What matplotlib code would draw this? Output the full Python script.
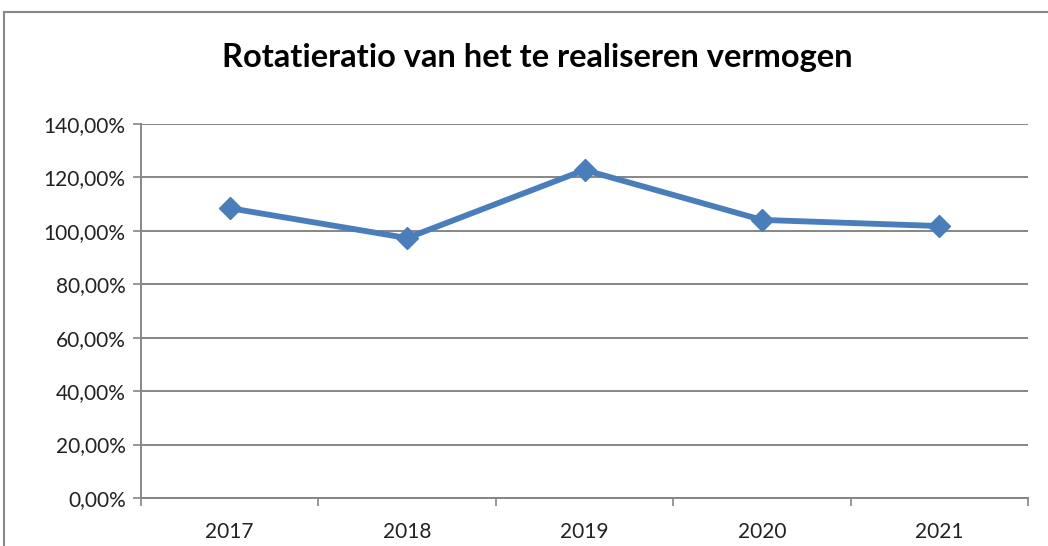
import matplotlib
matplotlib.use("Agg")
import matplotlib.pyplot as plt
from matplotlib.patches import Rectangle
from matplotlib.ticker import FuncFormatter, MultipleLocator

years = ["2017", "2018", "2019", "2020", "2021"]
ratio = [108.5, 97.3, 122.8, 104.1, 101.8]
title = "Rotatieratio van het te realiseren vermogen"

plt.rcParams['font.family'] = ['Lato', 'DejaVu Sans']

fig = plt.figure(figsize=(10.48, 5.46), dpi=100)
ax = fig.add_axes([141/1048, 1 - 498/546, (1028 - 141)/1048, (498 - 124)/546])

x = list(range(len(years)))
ax.plot(x, ratio, color="#4A7EBB", lw=4.2, marker="D", markersize=11,
        markerfacecolor="#4A7EBB", markeredgecolor="#4A7EBB", zorder=3)

ax.set_xlim(-0.5, len(years) - 0.5)
ax.set_ylim(0, 140)
ax.yaxis.set_major_locator(MultipleLocator(20))
ax.yaxis.set_major_formatter(FuncFormatter(lambda v, p: f"{v:.2f}".replace(".", ",") + "%"))
ax.set_xticks(x)
ax.set_xticklabels(years)
ax.set_xticks([i - 0.5 for i in range(len(years) + 1)], minor=True)
ax.tick_params(axis="x", which="major", length=0, pad=17, labelsize=15, colors="#222222")
ax.tick_params(axis="x", which="minor", length=6, width=1.2, color="#868686")
ax.tick_params(axis="y", length=6, width=1.2, color="#868686", labelsize=15, labelcolor="#222222", pad=5)

ax.grid(axis="y", color="#868686", lw=1.4)
ax.set_axisbelow(True)
for s in ["top", "right"]:
    ax.spines[s].set_visible(False)
for s in ["left", "bottom"]:
    ax.spines[s].set_color("#868686")
    ax.spines[s].set_linewidth(1.4)

fig.text(537/1048, 1 - 57/546, title, ha="center", va="center",
         fontsize=23.5, fontweight="bold", color="#000000")

fig.patches.append(Rectangle((4/1048, -0.1), 1.2, 1 - 12/546 + 0.1,
                             transform=fig.transFigure, fill=False,
                             edgecolor="#888888", lw=1.5, zorder=0))

fig.savefig("out.png", dpi=100)
